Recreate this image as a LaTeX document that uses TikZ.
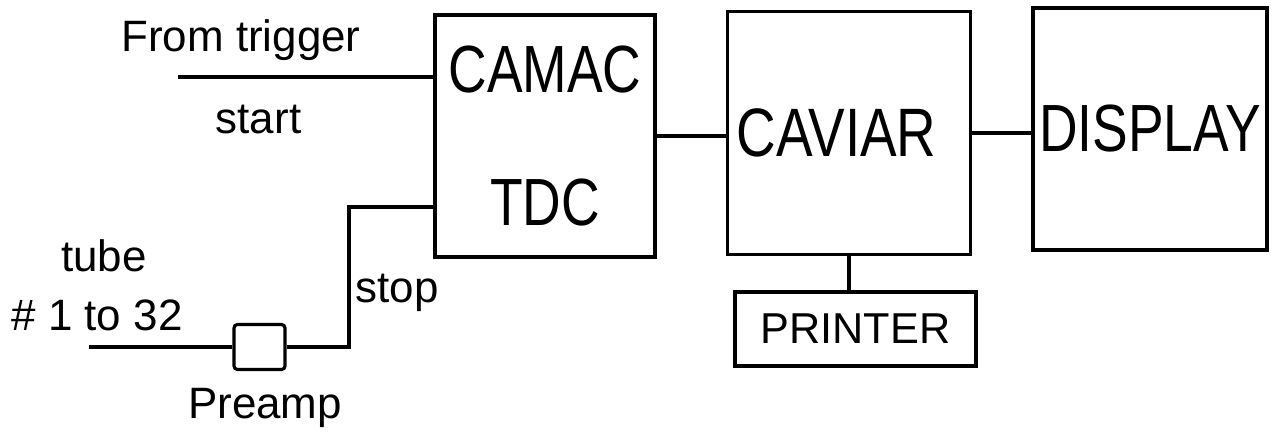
\documentclass[tikz,border=0pt]{standalone}
\usepackage{fontspec}
\setmainfont{Liberation Sans}
\newfontfamily\narrowfont[FakeStretch=0.8]{Liberation Sans}
\usepackage{tikz}
\usetikzlibrary{calc}
\tikzset{
  unitbox/.style={draw, line width=.9pt, inner sep=0pt, align=center},
  wire/.style={line width=.9pt},
  lbl/.style={font=\fontsize{12.5}{15}\selectfont, inner sep=0pt},
}

\begin{document}
\begin{tikzpicture}
    \useasboundingbox (0,0) rectangle (12.75,4.33);
    % the units
    \node[unitbox, minimum width=2.2cm, minimum height=2.42cm, font=\narrowfont\fontsize{19}{38}\selectfont] (tdc) at (5.45,2.97) {CAMAC\\TDC};
    \node[unitbox, minimum width=2.43cm, minimum height=2.43cm, font=\narrowfont\fontsize{19.5}{23}\selectfont] (caviar) at (8.49,3.0) {CAVIAR\hspace{0.25cm}};
    \node[unitbox, minimum width=2.34cm, minimum height=2.42cm, font=\narrowfont\fontsize{19}{23}\selectfont] (display) at (11.5,3.04) {DISPLAY};
    \node[unitbox, minimum width=2.41cm, minimum height=0.74cm, font=\fontsize{12.3}{15}\selectfont] (printer) at (8.555,1.04) {PRINTER};
    \node[unitbox, minimum width=0.51cm, minimum height=0.45cm, rounded corners=1pt] (pre) at (2.595,0.86) {};
    % inputs
    \coordinate (trig) at (1.78,3.56);
    \coordinate (tube) at (0.89,0.86);
    \coordinate (bend) at (3.49,2.26);
    \draw[wire] (trig) -- (trig -| tdc.west);
    \draw[wire] (tube) -- (pre.west);
    \draw[wire] (pre.east) -- (pre.east -| bend) -- (bend) -- (bend -| tdc.west);
    % links between units
    \draw[wire] (tdc.east) -- (tdc.east -| caviar.west);
    \draw[wire] (caviar.east) -- (caviar.east -| display.west);
    \draw[wire] (caviar.south) -- (caviar.south |- printer.north);
    % labels
    \node[lbl] (fromtrig) at (2.41,3.93) {From trigger};
    \node[lbl] (start) at (2.585,3.13) {start};
    \node[lbl] (tubetxt) at (1.04,1.77) {tube};
    \node[lbl] (range) at (0.97,1.18) {\# 1 to 32};
    \node[lbl] (preamp) at (2.65,0.25) {Preamp};
    \node[lbl] (stop) at (3.97,1.40) {stop};
\end{tikzpicture}
\end{document}
